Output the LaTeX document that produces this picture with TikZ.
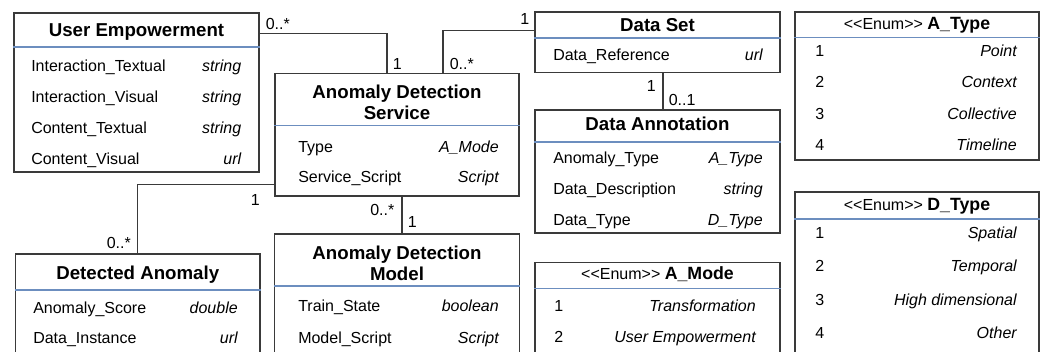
\documentclass[tikz,border=0pt]{standalone}
\usepackage{fontspec}
\setmainfont{Liberation Sans}[Ligatures=TeXOff]
\usetikzlibrary{fit,calc}
\definecolor{edgegray}{HTML}{3A3A3A}
\definecolor{sepblue}{HTML}{6C8EBF}
\tikzset{
  umlbox/.style={rectangle, draw=edgegray, line width=0.9pt, inner sep=0pt, fill=white},
  sepline/.style={draw=sepblue, line width=0.9pt},
  assoc/.style={draw=edgegray, line width=0.9pt},
  attr/.style={anchor=base west, inner sep=0pt, font=\fontsize{12}{14}\selectfont},
  atype/.style={anchor=base east, inner sep=0pt, font=\fontsize{12}{14}\selectfont\itshape},
  ctitle/.style={anchor=base, inner sep=0pt, font=\fontsize{14}{15.75}\selectfont\bfseries},
  ctitletwo/.style={anchor=north, inner sep=0pt, align=center, font=\fontsize{14}{15.75}\selectfont\bfseries},
  etitle/.style={anchor=base, inner sep=0pt, font=\fontsize{12}{14}\selectfont},
  mult/.style={anchor=base west, inner sep=0pt, font=\fontsize{12}{14}\selectfont},
}
% one attribute row: name prefix, left x, right x, baseline y, attribute, type
\newcommand{\umlrow}[6]{%
  \node[attr] (#1a) at (#2,#4) {#5};
  \node[atype] (#1b) at (#3,#4) {#6};
}
\begin{document}
\begin{tikzpicture}[x=0.75pt,y=-0.75pt]
\useasboundingbox (0,0) rectangle (1047,351);
\clip (0,0) rectangle (1047,351);
\fill[white] (0,0) rectangle (1047,351);

% class frames
\node[umlbox, fit={(14,13) (259,172)}] (ue) {};
\node[umlbox, fit={(275,73.5) (519,196)}] (ads) {};
\node[umlbox, fit={(535,12) (780,72.5)}] (ds) {};
\node[umlbox, fit={(535,110) (780,233)}] (da) {};
\node[umlbox, fit={(795,12) (1039,160)}] (atype) {};
\node[umlbox, fit={(795,192) (1039,380)}] (dtype) {};
\node[umlbox, fit={(15.5,254) (260,380)}] (det) {};
\node[umlbox, fit={(274.5,234) (519.5,380)}] (adm) {};
\node[umlbox, fit={(535,262.5) (780,380)}] (amode) {};

% header separators
\draw[sepline] (ue.west |- 0,47) -- (ue.east |- 0,47);
\draw[sepline] (ads.west |- 0,125.5) -- (ads.east |- 0,125.5);
\draw[sepline] (ds.west |- 0,38) -- (ds.east |- 0,38);
\draw[sepline] (da.west |- 0,142) -- (da.east |- 0,142);
\draw[sepline] (atype.west |- 0,37.5) -- (atype.east |- 0,37.5);
\draw[sepline] (dtype.west |- 0,219) -- (dtype.east |- 0,219);
\draw[sepline] (det.west |- 0,290) -- (det.east |- 0,290);
\draw[sepline] (adm.west |- 0,286) -- (adm.east |- 0,286);
\draw[sepline] (amode.west |- 0,288.5) -- (amode.east |- 0,288.5);

% titles
\node[ctitle] (ue-t) at (ue.north |- 0,36) {User Empowerment};
\node[ctitletwo] (ads-t) at (ads.north |- 0,85) {Anomaly Detection\\Service};
\node[ctitle] (ds-t) at (ds.north |- 0,31) {Data Set};
\node[ctitle] (da-t) at (da.north |- 0,130) {Data Annotation};
\node[etitle] (atype-t) at (atype.north |- 0,29.5) {<<Enum>> {\bfseries\fontsize{13.3}{15}\selectfont A\_Type}};
\node[etitle] (dtype-t) at (dtype.north |- 0,210) {<<Enum>> {\bfseries\fontsize{13.3}{15}\selectfont D\_Type}};
\node[ctitle] (det-t) at (det.north |- 0,279) {Detected Anomaly};
\node[ctitletwo] (adm-t) at (adm.north |- 0,245.5) {Anomaly Detection\\Model};
\node[etitle] (amode-t) at (amode.north |- 0,279) {<<Enum>> {\bfseries\fontsize{13.3}{15}\selectfont A\_Mode}};

% attributes
\umlrow{ue1}{31}{241.5}{71}{Interaction\_Textual}{string}
\umlrow{ue2}{31}{241.5}{102}{Interaction\_Visual}{string}
\umlrow{ue3}{31}{241.5}{133}{Content\_Textual}{string}
\umlrow{ue4}{31}{241.5}{164.5}{Content\_Visual}{url}

\umlrow{ads1}{298}{499}{152}{Type}{A\_Mode}
\umlrow{ads2}{298}{499}{182.5}{Service\_Script}{Script}

\umlrow{ds1}{553}{763}{60}{Data\_Reference}{url}

\umlrow{da1}{553}{763}{163}{Anomaly\_Type}{A\_Type}
\umlrow{da2}{553}{763}{194}{Data\_Description}{string}
\umlrow{da3}{553}{763}{225.5}{Data\_Type}{D\_Type}

\umlrow{at1}{815}{1017}{56.5}{1}{Point}
\umlrow{at2}{815}{1017}{87.5}{2}{Context}
\umlrow{at3}{815}{1017}{119.5}{3}{Collective}
\umlrow{at4}{815}{1017}{150.5}{4}{Timeline}

\umlrow{dt1}{815}{1017}{238.5}{1}{Spatial}
\umlrow{dt2}{815}{1017}{271.5}{2}{Temporal}
\umlrow{dt3}{815}{1017}{305}{3}{High dimensional}
\umlrow{dt4}{815}{1017}{338}{4}{Other}

\umlrow{det1}{33}{238}{313}{Anomaly\_Score}{double}
\umlrow{det2}{33}{238}{343}{Data\_Instance}{url}

\umlrow{adm1}{298}{499}{311}{Train\_State}{boolean}
\umlrow{adm2}{298}{499}{343}{Model\_Script}{Script}

\umlrow{am1}{554}{756}{311}{1}{Transformation}
\umlrow{am2}{554}{756}{342}{2}{User Empowerment}

% associations
\draw[assoc] ($(ue.north east)+(0,21)$) -| ($(ads.north)+(-10,0)$);
\draw[assoc] ($(ads.north)+(46,0)$) |- ($(ds.north west)+(0,19)$);
\draw[assoc] ($(ds.south)+(5.5,0)$) -- ($(da.north)+(5.5,0)$);
\draw[assoc] ($(ads.north west)+(0,111.5)$) -| ($(det.north west)+(122.5,0)$);
\draw[assoc] ($(ads.south)+(5,0)$) -- ($(adm.north)+(5,0)$);

% multiplicities
\node[mult] (m1) at (265.5,29) {0..*};
\node[mult] (m2) at (392.5,69.5) {1};
\node[mult] (m3) at (449.5,69) {0..*};
\node[mult] (m4) at (520,24.5) {1};
\node[mult] (m5) at (646.5,91) {1};
\node[mult] (m6) at (668.5,105) {0..1};
\node[mult] (m7) at (250.5,205) {1};
\node[mult] (m8) at (106.5,248.5) {0..*};
\node[mult] (m9) at (370,215) {0..*};
\node[mult] (m10) at (407.5,227.5) {1};
\end{tikzpicture}
\end{document}
